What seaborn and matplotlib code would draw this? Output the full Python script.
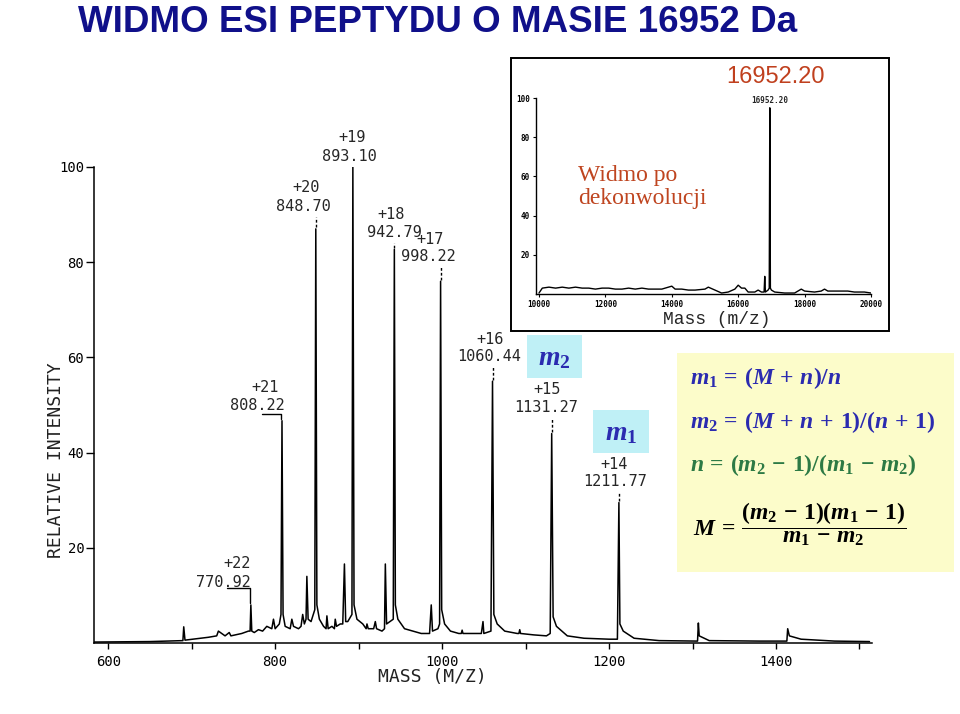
#!/usr/bin/env python3
"""
Widmo ESI peptydu o masie 16952 Da - rekonstrukcja slajdu.
"""

import pandas as pd
import matplotlib
matplotlib.use('Agg')
import matplotlib.pyplot as plt
from matplotlib.patches import Rectangle
from matplotlib import font_manager
import seaborn as sns

sns.set_theme(style="ticks")
plt.rcParams['font.family'] = ['DejaVu Sans Mono', 'DejaVu Sans']
plt.rcParams['mathtext.fontset'] = 'custom'
plt.rcParams['mathtext.rm'] = 'Liberation Serif:bold'
plt.rcParams['mathtext.it'] = 'Liberation Serif:italic:bold'
plt.rcParams['mathtext.bf'] = 'Liberation Serif:bold'

# --- Dane: widmo ESI (m/z, intensywnosc wzgledna) ---
esi_mass = [583, 650, 688, 689.5, 690.5, 692, 720, 730, 732, 740, 745, 747, 760, 768, 770,
            770.9, 772, 775, 780, 785, 790, 796, 798, 800, 805, 807, 808.2, 809.5, 812, 818,
            820, 822, 828, 831, 833, 835, 837, 838, 839.5, 843, 847.5, 848.7, 850, 853, 858,
            861, 862, 863.5, 868, 871, 872, 873.5, 878, 881, 883, 884.5, 887, 892, 893.1,
            894.5, 898, 905, 909, 910, 911.5, 918, 920, 921.5, 928, 931, 932, 933.5, 941.5,
            942.8, 944, 947, 955, 965, 975, 985, 987, 988.5, 995, 997, 998.2, 999.5, 1003,
            1010, 1020, 1023, 1024, 1025, 1040, 1047, 1049, 1050, 1058.5, 1060.4, 1062, 1066,
            1075, 1090, 1092, 1093, 1094, 1110, 1125, 1129.5, 1131.3, 1133, 1137, 1150, 1170,
            1200, 1210, 1211.8, 1213, 1217, 1230, 1260, 1300, 1306, 1307, 1308, 1320, 1380,
            1412, 1413, 1414, 1416, 1430, 1470, 1512]
esi_int = [0.2, 0.3, 0.5, 0.5, 3.4, 0.6, 1.2, 1.5, 2.5, 1.5, 2.2, 1.5, 2, 2.5, 2.5,
           8, 2.5, 2.2, 2.8, 2.5, 3.5, 3, 5, 3, 4, 6, 46.7, 6, 3.5, 3,
           5, 3.5, 3, 3.5, 6, 4, 5, 14, 5, 4.5, 7, 87, 8, 5, 3.5,
           3, 5.7, 3, 3.5, 3, 5, 3.5, 4, 4, 16.6, 4.5, 4.5, 6, 100,
           8, 5, 4, 3, 4, 3, 3, 4.5, 3, 2.5, 3, 16.6, 4, 5,
           82.7, 8, 5, 3, 2.5, 2, 2, 8, 2.5, 3, 4, 76, 7, 4,
           2.5, 2, 2, 2.7, 2, 2, 2, 4.5, 2, 2.5, 55, 6, 4,
           2.5, 2, 2, 2.8, 2, 1.7, 1.5, 2, 44, 5.5, 3.5, 1.5, 1,
           0.8, 0.8, 29.5, 4, 2.5, 1, 0.5, 0.4, 0.4, 4.2, 1.5, 0.5, 0.4,
           0.4, 0.4, 3, 1.5, 0.8, 0.4, 0.3]

# piki opisane: ladunek, m/z, wysokosc
peak_charge = ['+22', '+21', '+20', '+19', '+18', '+17', '+16', '+15', '+14']
peak_mz = [770.92, 808.22, 848.70, 893.10, 942.79, 998.22, 1060.44, 1131.27, 1211.77]
peak_height = [8, 46.7, 87, 100, 82.7, 76, 55, 44, 29.5]

# --- Dane: widmo po dekonwolucji ---
dec_mass = [10000, 10100, 10300, 10500, 10700, 10900, 11100, 11300, 11500, 11700, 11900,
            12100, 12300, 12500, 12700, 12900, 13100, 13300, 13500, 13700, 14000, 14100,
            14300, 14500, 14700, 15000, 15100, 15300, 15500, 15700, 15900, 16000, 16100,
            16200, 16300, 16500, 16600, 16700, 16780, 16800, 16820, 16900, 16935, 16952,
            16970, 17000, 17100, 17400, 17700, 17800, 17900, 18000, 18300, 18500, 18600,
            18700, 19000, 19300, 19500, 19800, 20000]
dec_int = [0.5, 3, 3.5, 3, 3.5, 3, 3.5, 3, 3, 2.5, 3,
           3, 2.5, 2.5, 3, 2.5, 3, 2.5, 2.5, 2.5, 4, 2.5,
           2.5, 2, 2, 2.5, 3.5, 2, 0.5, 1, 2.5, 4.5, 3,
           3, 1, 1, 2, 1, 1, 9, 1, 2, 3, 95,
           3, 2, 1, 0.5, 0.5, 1.5, 2.5, 1.5, 1, 1.5, 2.5,
           1.5, 1.5, 1.5, 1, 1, 0.5]

esi = pd.DataFrame({'mass': esi_mass, 'intensity': esi_int})
dec = pd.DataFrame({'mass': dec_mass, 'intensity': dec_int})

W, H = 960, 714


def fx(px):
    return px / W


def fy(py):
    return 1 - py / H


names = {f.name for f in font_manager.fontManager.ttflist}
if 'Liberation Sans Narrow' in names:
    title_font, title_size = 'Liberation Sans Narrow', 30
else:
    title_font, title_size = 'Liberation Sans', 26.5

fig = plt.figure(figsize=(9.6, 7.14), dpi=100)
fig.patch.set_facecolor('white')

# --- Glowny wykres ---
ax = fig.add_axes([fx(94), fy(643), fx(872) - fx(94), fy(167) - fy(643)])
ax.patch.set_alpha(0)
sns.lineplot(data=esi, x='mass', y='intensity', ax=ax, color='black', lw=1.1,
             estimator=None, sort=False)
ax.set_xlim(583, 1515)
ax.set_ylim(0, 100)
sns.despine(ax=ax)
for s in ['left', 'bottom']:
    ax.spines[s].set_color('black')
    ax.spines[s].set_linewidth(1.1)
ax.set_xticks([600, 800, 1000, 1200, 1400])
ax.set_xticks([700, 900, 1100, 1300, 1500], minor=True)
ax.set_yticks([20, 40, 60, 80, 100])
ax.tick_params(axis='x', which='both', direction='out', length=4, width=1, pad=5,
               labelsize=10, colors='black')
ax.tick_params(axis='y', direction='out', length=6, width=1, pad=1,
               labelsize=10, colors='black')
ax.set_xlabel('')
ax.set_ylabel('')
ax.grid(False)

fig.text(fx(432), fy(677), 'MASS (M/Z)', fontsize=13, ha='center', va='center',
         color='#222222')
fig.text(fx(56), fy(460), 'RELATIVE INTENSITY', fontsize=13, rotation=90,
         ha='center', va='center', color='#222222')

# opisy pikow
charge_pos = [(754.5, 16.8), (788, 53.7), (837, 95.6), (892, 106.1), (939, 90.1),
              (985.6, 84.8), (1057.5, 63.8), (1125.8, 53.3), (1206, 37.5)]
mz_pos = [(737.7, 12.8), (778.4, 49.9), (833.5, 91.8), (888.6, 102.3), (942.5, 86.3),
          (983.2, 81.3), (1056.3, 60.2), (1124.5, 49.5), (1207, 33.9)]
for q, mz, h, cp, mp in zip(peak_charge, peak_mz, peak_height, charge_pos, mz_pos):
    ax.text(cp[0], cp[1], q, fontsize=11, ha='center', va='center', clip_on=False)
    ax.text(mp[0], mp[1], f'{mz:.2f}', fontsize=11, ha='center', va='center',
            clip_on=False)
    top = mp[1] - 2.2
    if mz > 840 and top > h + 0.5:
        ax.plot([mz, mz], [h + 0.3, top], color='black', lw=1, ls=(0, (2, 1.5)))
# podkreslenia z odnosnikami
ax.plot([742.5, 769.3, 769.3], [11.6, 11.6, 8.5], color='black', lw=1)
ax.plot([784.5, 807.5, 807.5], [48.2, 48.2, 47], color='black', lw=1)

# --- Wstawka: widmo po dekonwolucji ---
fig.patches.append(Rectangle((fx(511), fy(331)), fx(889) - fx(511), fy(58) - fy(331),
                             transform=fig.transFigure, facecolor='white',
                             edgecolor='black', lw=1.4, zorder=2))
ax2 = fig.add_axes([fx(536), fy(294), fx(871) - fx(536), fy(98) - fy(294)], zorder=3)
ax2.patch.set_alpha(0)
sns.lineplot(data=dec, x='mass', y='intensity', ax=ax2, color='black', lw=1.0,
             estimator=None, sort=False)
ax2.set_xlim(9910, 20000)
ax2.set_ylim(0, 100)
sns.despine(ax=ax2)
for s in ['left', 'bottom']:
    ax2.spines[s].set_color('black')
    ax2.spines[s].set_linewidth(1.0)
ax2.set_xticks(range(10000, 20001, 2000))
ax2.set_yticks([20, 40, 60, 80, 100])
ax2.tick_params(axis='both', direction='out', length=2.5, width=0.8, pad=2,
                labelsize=5.5, colors='black')
for lab in ax2.get_xticklabels() + ax2.get_yticklabels():
    lab.set_fontweight('bold')
ax2.set_xlabel('')
ax2.set_ylabel('')
ax2.grid(False)
ax2.text(16952, 96.5, '16952.20', fontsize=5.5, fontweight='bold', ha='center',
         va='bottom')

fig.text(fx(717), fy(320), 'Mass (m/z)', fontsize=13, ha='center', va='center',
         family='Liberation Mono', zorder=4)
fig.text(fx(776), fy(77), '16952.20', fontsize=17, ha='center', va='center',
         family='Liberation Sans', color='#c0401e', zorder=4)
fig.text(fx(578), fy(187), 'Widmo po\ndekonwolucji', fontsize=17, ha='left',
         va='center', family='Liberation Serif', color='#bf4520', linespacing=1.15,
         zorder=4)

# --- Ramki z m1, m2 i wzorami ---
cyan = '#bff0f6'
fig.patches.append(Rectangle((fx(527), fy(378)), fx(582) - fx(527), fy(335) - fy(378),
                             transform=fig.transFigure, facecolor=cyan, lw=0, zorder=1))
fig.patches.append(Rectangle((fx(593), fy(453)), fx(649) - fx(593), fy(410) - fy(453),
                             transform=fig.transFigure, facecolor=cyan, lw=0, zorder=1))
fig.patches.append(Rectangle((fx(677), fy(572)), fx(954) - fx(677), fy(353) - fy(572),
                             transform=fig.transFigure, facecolor='#fcfcca', lw=0,
                             zorder=1))
blue = '#2b2bb0'
green = '#2d7a45'
fig.text(fx(554), fy(357), r'$m_2$', fontsize=20, ha='center', va='center', color=blue)
fig.text(fx(621), fy(432), r'$m_1$', fontsize=20, ha='center', va='center', color=blue)

fig.text(fx(690), fy(378), r'$m_1 \,=\, (M \,+\, n)/n$', fontsize=17, ha='left',
         va='center', color=blue)
fig.text(fx(690), fy(422), r'$m_2 \,=\, (M \,+\, n \,+\, 1)/(n \,+\, 1)$', fontsize=17,
         ha='left', va='center', color=blue)
fig.text(fx(690), fy(465), r'$n \,=\, (m_2 \,-\, 1)/(m_1 \,-\, m_2)$', fontsize=17,
         ha='left', va='center', color=green)
fig.text(fx(693), fy(524),
         r'$M \,=\, \dfrac{(m_2 \,-\, 1)(m_1 \,-\, 1)}{m_1 \,-\, m_2}$', fontsize=17,
         ha='left', va='center', color='black')

# --- Tytul ---
fig.text(fx(78), fy(22), 'WIDMO ESI PEPTYDU O MASIE 16952 Da', fontsize=title_size,
         fontweight='bold', color='#10108a', family=title_font, ha='left', va='center')

plt.savefig('out.png', dpi=100)
